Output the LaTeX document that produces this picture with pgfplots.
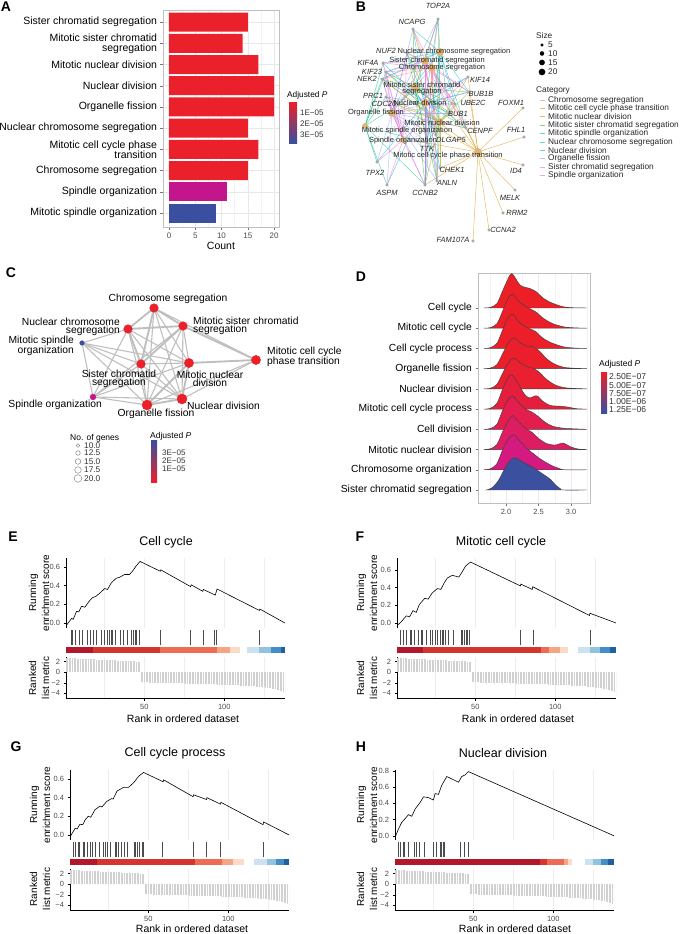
\documentclass[border=0pt]{standalone}
\usepackage{fontspec}
\setmainfont{Liberation Sans}
\usepackage{pgfplots}
\usepackage{pgfplotstable}
\pgfplotsset{compat=1.18}

\newcommand\fs[2]{\fontsize{#1}{#2}\selectfont}

%% colours
\definecolor{pred}{RGB}{234,32,42}
\definecolor{pmag}{RGB}{196,22,140}
\definecolor{pblue}{RGB}{58,79,160}
\definecolor{tanhub}{RGB}{226,180,110}
\definecolor{cCS}{HTML}{F8766D}
\definecolor{cMCCPT}{HTML}{D89000}
\definecolor{cMND}{HTML}{A3A500}
\definecolor{cMSCS}{HTML}{39B600}
\definecolor{cMSO}{HTML}{00BF7D}
\definecolor{cNCS}{HTML}{00BFC4}
\definecolor{cND}{HTML}{00B0F6}
\definecolor{cOF}{HTML}{9590FF}
\definecolor{cSCS}{HTML}{E76BF3}
\definecolor{cSO}{HTML}{FF62BC}
\definecolor{r10}{RGB}{236,30,38}
\definecolor{r9}{RGB}{236,30,40}
\definecolor{r8}{RGB}{236,30,41}
\definecolor{r7}{RGB}{235,31,43}
\definecolor{r6}{RGB}{234,31,47}
\definecolor{r5}{RGB}{230,30,62}
\definecolor{r4}{RGB}{227,29,78}
\definecolor{r3}{RGB}{222,28,98}
\definecolor{r2}{RGB}{212,26,128}
\definecolor{r1}{RGB}{60,80,160}
\definecolor{ddred}{RGB}{178,24,43}
\definecolor{dred}{RGB}{214,52,46}
\definecolor{mred}{RGB}{236,108,84}
\definecolor{salm}{RGB}{245,165,132}
\definecolor{peach}{RGB}{252,218,200}
\definecolor{lblue}{RGB}{205,226,240}
\definecolor{mblue}{RGB}{146,194,222}
\definecolor{bblue}{RGB}{67,142,196}
\definecolor{dblue}{RGB}{33,95,165}

%% ---- B: genes, position and category membership ----
\pgfplotstableread{
name x y CS MCCPT MND MSCS MSO NCS ND OF SCS SO
TOP2A 438 -19 1 0 1 1 0 1 1 1 1 0
NCAPG 413 -29 1 0 1 1 0 1 1 1 1 0
NUF2 407 -53 1 0 1 1 0 1 1 1 1 1
KIF4A 383 -63 1 0 0 0 1 1 1 1 1 1
KIF23 386 -72 1 0 1 1 1 1 1 1 1 1
NEK2 382 -79 1 1 1 1 1 1 1 1 1 1
PRC1 386 -97 0 0 1 0 1 0 1 1 0 1
CDC20 398 -105 1 1 1 1 1 1 1 1 1 1
KIF14 468 -77 0 1 1 0 0 0 1 1 0 1
BUB1B 469 -92 1 1 1 1 0 1 1 1 1 0
UBE2C 455 -104 1 1 1 1 0 1 1 1 1 0
BUB1 450 -113 1 1 1 1 0 1 1 1 1 0
CENPF 466 -128 1 1 1 1 0 1 1 1 1 0
DLGAP5 436 -135 1 0 1 1 0 1 1 1 1 0
TTK 427 -143 1 1 1 1 1 1 1 1 1 1
CHEK1 440 -168 0 1 1 0 0 0 1 1 0 0
TPX2 377 -162 0 0 0 0 1 0 1 1 0 1
ASPM 387 -185 0 0 0 0 1 0 1 1 0 1
CCNB2 425 -185 1 1 1 1 1 1 1 1 1 1
ANLN 437 -181 1 0 1 1 0 1 1 1 1 0
FOXM1 523 -108 0 1 0 0 0 0 0 0 0 0
FHL1 524 -137 0 1 0 0 0 0 0 0 0 0
ID4 523 -165 0 1 0 0 0 0 0 0 0 0
MELK 515 -190 0 1 0 0 0 0 0 0 0 0
RRM2 503 -213 0 1 0 0 0 0 0 0 0 0
CCNA2 489 -230 0 1 0 0 0 0 0 0 0 0
FAM107A 473 -241 0 1 0 0 0 0 0 0 0 0
}\genes

%% ---- C: edges of the enrichment map ----
\pgfplotstableread{
x y x2 y2
154 -308 128 -329
154 -308 183 -326
154 -308 141 -364
128 -329 183 -326
128 -329 141 -364
183 -326 141 -364
182 -399 147 -405
182 -399 189 -363
147 -405 189 -363
256 -360 189 -363
256 -360 183 -326
}\cthick
\pgfplotstableread{
x y x2 y2
154 -308 189 -363
154 -308 182 -399
154 -308 147 -405
154 -308 256 -360
128 -329 189 -363
128 -329 182 -399
128 -329 147 -405
128 -329 82 -343
183 -326 189 -363
183 -326 182 -399
183 -326 147 -405
141 -364 189 -363
141 -364 182 -399
141 -364 147 -405
256 -360 182 -399
256 -360 147 -405
82 -343 93 -397
82 -343 141 -364
82 -343 147 -405
82 -343 182 -399
82 -343 189 -363
93 -397 147 -405
93 -397 182 -399
93 -397 141 -364
93 -397 189 -363
93 -397 128 -329
93 -397 183 -326
}\cthin

%% ---- D: ridge densities (x, height in row units) ----
\pgfplotstableread[row sep=\\]{x h\\1.66 0\\1.76 0.03\\1.86 0.21\\1.93 0.71\\2.01 1.29\\2.09 1.70\\2.22 1.12\\2.37 0.96\\2.47 0.79\\2.55 0.54\\2.68 0.28\\2.88 0.06\\3.05 0.01\\3.24 0\\}\rCC
\pgfplotstableread[row sep=\\]{x h\\1.66 0\\1.76 0.03\\1.86 0.22\\1.94 0.78\\2.02 1.40\\2.10 1.68\\2.22 1.25\\2.35 1.00\\2.47 0.78\\2.56 0.52\\2.70 0.25\\2.88 0.07\\3.05 0.02\\3.24 0\\}\rMCC
\pgfplotstableread[row sep=\\]{x h\\1.66 0\\1.76 0.04\\1.86 0.25\\1.94 0.85\\2.02 1.45\\2.10 1.70\\2.20 1.30\\2.33 1.02\\2.45 0.85\\2.55 0.55\\2.68 0.30\\2.88 0.08\\3.05 0.02\\3.24 0\\}\rCCP
\pgfplotstableread[row sep=\\]{x h\\1.66 0\\1.76 0.03\\1.86 0.20\\1.95 0.75\\2.04 1.30\\2.12 1.52\\2.22 1.28\\2.32 1.12\\2.42 1.08\\2.52 0.85\\2.62 0.50\\2.75 0.22\\2.92 0.05\\3.24 0\\}\rOF
\pgfplotstableread[row sep=\\]{x h\\1.66 0\\1.76 0.03\\1.86 0.22\\1.95 0.78\\2.04 1.32\\2.12 1.52\\2.22 1.28\\2.32 1.10\\2.42 1.02\\2.52 0.80\\2.62 0.48\\2.75 0.20\\2.92 0.05\\3.24 0\\}\rND
\pgfplotstableread[row sep=\\]{x h\\1.66 0\\1.76 0.04\\1.86 0.28\\1.95 1.00\\2.03 1.55\\2.09 1.70\\2.18 1.30\\2.28 0.75\\2.36 0.55\\2.47 0.66\\2.56 0.40\\2.68 0.18\\2.85 0.14\\2.95 0.10\\3.08 0.02\\3.24 0\\}\rMCCP
\pgfplotstableread[row sep=\\]{x h\\1.66 0\\1.76 0.04\\1.86 0.25\\1.95 0.95\\2.04 1.50\\2.10 1.65\\2.20 1.30\\2.30 1.00\\2.40 0.85\\2.50 0.62\\2.60 0.35\\2.72 0.15\\2.90 0.05\\3.24 0\\}\rCD
\pgfplotstableread[row sep=\\]{x h\\1.66 0\\1.76 0.04\\1.86 0.25\\1.95 0.90\\2.04 1.45\\2.10 1.68\\2.20 1.35\\2.30 1.05\\2.40 0.85\\2.50 0.55\\2.62 0.30\\2.75 0.22\\2.88 0.32\\2.98 0.15\\3.10 0.03\\3.24 0\\}\rMND
\pgfplotstableread[row sep=\\]{x h\\1.66 0\\1.76 0.05\\1.86 0.30\\1.95 1.00\\2.04 1.55\\2.12 1.73\\2.22 1.40\\2.32 1.05\\2.42 0.80\\2.52 0.55\\2.62 0.35\\2.72 0.18\\2.82 0.06\\2.90 0\\3.24 0\\}\rCO
\pgfplotstableread[row sep=\\]{x h\\1.70 0\\1.78 0.10\\1.88 0.45\\1.98 1.05\\2.06 1.45\\2.13 1.60\\2.25 1.40\\2.37 1.19\\2.47 1.00\\2.57 0.78\\2.68 0.53\\2.76 0.25\\2.84 0.05\\2.88 0\\3.24 0\\}\rSCS

%% ---- E-H: running enrichment scores ----
\pgfplotstableread[row sep=\\]{x y\\1 -0.03\\4.5 0.05\\5.5 0.04\\7.6 0.125\\9 0.12\\10.7 0.18\\12.8 0.17\\15.3 0.23\\17.4 0.27\\20 0.29\\22.1 0.32\\25.2 0.37\\27 0.36\\29.3 0.43\\32.4 0.48\\34.5 0.49\\37.6 0.52\\40.7 0.52\\42.8 0.56\\44.8 0.61\\47.3 0.66\\60 0.555\\60.3 0.57\\79 0.39\\79.3 0.41\\86.6 0.34\\86.9 0.36\\94.4 0.30\\95.5 0.365\\122 0.135\\122.3 0.15\\138 0\\}\esE
\pgfplotstableread[row sep=\\]{x y\\1 -0.03\\3.5 0.01\\6.8 0.08\\8.9 0.07\\11 0.14\\13 0.12\\15 0.21\\18.4 0.28\\20.5 0.27\\23 0.34\\26.3 0.39\\28.4 0.38\\30.4 0.45\\32.5 0.51\\35.6 0.54\\39.7 0.52\\41.8 0.58\\43.9 0.645\\47 0.69\\78.2 0.42\\78.5 0.44\\85.6 0.38\\85.9 0.41\\121.4 0.085\\121.7 0.11\\138 0\\}\esF
\pgfplotstableread[row sep=\\]{x y\\1 -0.02\\4.2 0.07\\5.5 0.065\\7.2 0.115\\9 0.11\\10.4 0.16\\12.4 0.2\\14 0.19\\16.6 0.27\\19.8 0.31\\21 0.30\\24 0.36\\27.1 0.39\\28 0.385\\30.4 0.47\\34.5 0.51\\37.6 0.51\\40.8 0.56\\44 0.63\\47 0.67\\59.3 0.57\\59.6 0.59\\78 0.41\\78.3 0.43\\86.4 0.38\\86.7 0.40\\95.1 0.33\\95.4 0.35\\121.8 0.11\\122.1 0.14\\138 0\\}\esG
\pgfplotstableread[row sep=\\]{x y\\1 -0.02\\3.1 0.08\\5.2 0.165\\7.3 0.21\\9.4 0.26\\11.5 0.24\\13.6 0.33\\16.7 0.41\\18.8 0.48\\21.9 0.47\\25 0.44\\26.1 0.52\\28.2 0.51\\30.2 0.62\\33.4 0.73\\40.7 0.66\\42.8 0.73\\44.9 0.75\\46.9 0.79\\138 0\\}\esH

%% hits (ranks of the gene-set members, h = 1)
\pgfplotstableread[row sep=\\]{r h\\4 1\\5 1\\7 1\\9 1\\11 1\\14 1\\16 1\\18 1\\20 1\\23 1\\25 1\\27 1\\28 1\\29 1\\30 1\\32 1\\35 1\\37 1\\39 1\\42 1\\43 1\\44 1\\45 1\\47 1\\60 1\\79 1\\87 1\\94 1\\95 1\\122 1\\}\hitsE
\pgfplotstableread[row sep=\\]{r h\\3 1\\5 1\\7 1\\9 1\\10 1\\12 1\\14 1\\16 1\\17 1\\19 1\\22 1\\23 1\\25 1\\26 1\\28 1\\29 1\\30 1\\31 1\\33 1\\36 1\\41 1\\42 1\\43 1\\44 1\\45 1\\46 1\\78 1\\86 1\\122 1\\}\hitsF
\pgfplotstableread[row sep=\\]{r h\\3 1\\4 1\\6 1\\7 1\\9 1\\10 1\\12 1\\13.5 1\\15 1\\17 1\\19 1\\22 1\\23 1\\24.5 1\\26 1\\29 1\\30 1\\31 1\\33 1\\35 1\\37 1\\41 1\\42 1\\43 1\\44 1\\46 1\\47 1\\59 1\\78 1\\86 1\\95 1\\122 1\\}\hitsG
\pgfplotstableread[row sep=\\]{r h\\3 1\\4 1\\6 1\\7 1\\9 1\\13 1\\14 1\\16 1\\19 1\\25 1\\27 1\\29 1\\30 1\\31 1\\32 1\\42 1\\44 1\\47 1\\}\hitsH

%% ranked list metric (same ranked list for E-H)
\pgfplotstableread[row sep=\\]{r m\\1 2.78\\2 2.72\\3 2.70\\4 2.68\\5 2.66\\6 2.64\\7 2.62\\8 2.60\\9 2.58\\10 2.57\\11 2.55\\12 2.54\\13 2.52\\14 2.51\\15 2.49\\16 2.48\\17 2.46\\18 2.45\\19 2.43\\20 2.42\\21 2.40\\22 2.39\\23 2.37\\24 2.36\\25 2.34\\26 2.33\\27 2.31\\28 2.30\\29 2.28\\30 2.27\\31 2.25\\32 2.24\\33 2.22\\34 2.21\\35 2.19\\36 2.18\\37 2.16\\38 2.15\\39 2.13\\40 2.12\\41 2.10\\42 2.09\\43 2.07\\44 2.06\\45 2.04\\46 2.03\\47 2.01\\48 -1.90\\49 -1.91\\50 -1.92\\51 -1.93\\52 -1.94\\53 -1.95\\54 -1.95\\55 -1.96\\56 -1.97\\57 -1.98\\58 -1.99\\59 -2.00\\60 -2.00\\61 -2.01\\62 -2.02\\63 -2.03\\64 -2.04\\65 -2.05\\66 -2.05\\67 -2.06\\68 -2.07\\69 -2.08\\70 -2.09\\71 -2.10\\72 -2.10\\73 -2.11\\74 -2.12\\75 -2.13\\76 -2.14\\77 -2.15\\78 -2.15\\79 -2.16\\80 -2.17\\81 -2.18\\82 -2.19\\83 -2.20\\84 -2.21\\85 -2.22\\86 -2.23\\87 -2.24\\88 -2.25\\89 -2.26\\90 -2.27\\91 -2.28\\92 -2.29\\93 -2.30\\94 -2.31\\95 -2.32\\96 -2.33\\97 -2.34\\98 -2.35\\99 -2.36\\100 -2.37\\101 -2.39\\102 -2.40\\103 -2.42\\104 -2.43\\105 -2.45\\106 -2.46\\107 -2.48\\108 -2.50\\109 -2.51\\110 -2.53\\111 -2.55\\112 -2.57\\113 -2.59\\114 -2.61\\115 -2.63\\116 -2.65\\117 -2.67\\118 -2.69\\119 -2.71\\120 -2.73\\121 -2.76\\122 -2.78\\123 -2.81\\124 -2.84\\125 -2.87\\126 -2.91\\127 -2.95\\128 -3.00\\129 -3.05\\130 -3.10\\131 -3.16\\132 -3.22\\133 -3.30\\134 -3.38\\135 -3.48\\136 -3.60\\137 -3.78\\138 -4.05\\}\metric

%% styles
\pgfplotsset{
  gbase/.style={scale only axis, anchor=north west, width=219pt, xmin=1, xmax=138,
    /pgf/number format/assume math mode=true,
    ticklabel style={font=\fs{7.5}{8}, text=black!70},
    tick align=outside, tick pos=left, major tick length=2.5pt, minor tick length=0pt,
    tick style={black, line width=0.5pt},
    grid style={black!7, line width=0.5pt}, minor grid style={black!7, line width=0.5pt}},
  ges/.style={gbase, height=70pt, axis lines*=left, axis line style={-, black, line width=0.5pt},
    x axis line style={draw=none},
    xtick={50,100}, minor xtick={25,75,125}, xticklabels={}, xmajorgrids, xminorgrids,
    xtick style={draw=none},
    yticklabel style={/pgf/number format/fixed, /pgf/number format/fixed zerofill, /pgf/number format/precision=1}},
  ghit/.style={gbase, height=15pt, ymin=0, ymax=1, hide axis},
  gband/.style={gbase, height=6pt, ymin=0, ymax=1, hide axis},
  gmet/.style={gbase, height=41pt, ymin=-4.9, ymax=2.9, axis lines*=left,
    axis line style={-, black, line width=0.5pt},
    xtick={50,100}, minor xtick={25,75,125}, xmajorgrids, xminorgrids,
    ytick={-4,-2,0,2}, yticklabels={−4,−2,0,2}},
  ridge/.style={draw=black!75, line width=0.45pt, smooth},
}

\newcommand\bseg[3]{\addplot[fill=#1, draw=none] coordinates {(#2,0) (#3,0) (#3,1) (#2,1)} -- cycle;}
\newcommand\catedges[4]{\addplot[#2, line width=0.5pt, opacity=0.6, no markers,
   restrict expr to domain={\thisrow{#1}}{0.5:1.5},
   quiver={u={#3-(\thisrow{x})}, v={#4-(\thisrow{y})}}] table[x=x,y=y] {\genes};}

% #1 left, #2 top of ES panel, #3 ymin, #4 ymax, #5 yticks, #6 ES, #7 hits, #8 band
\newcommand\gsea[8]{%
  \begin{axis}[ges, at={(#1pt,-#2pt)}, ymin=#3, ymax=#4, ytick={#5}]
    \addplot[black, line width=0.6pt, mark=none] table[x=x,y=y] {#6};
  \end{axis}
  \begin{axis}[ghit, at={(#1pt,{-(#2+72)*1pt})}]
    \addplot[ycomb, black!70, line width=0.45pt, mark=none] table[x=r, y=h] {#7};
  \end{axis}
  \begin{axis}[gband, at={(#1pt,{-(#2+89)*1pt})}]
    #8
  \end{axis}
  \begin{axis}[gmet, at={(#1pt,{-(#2+99)*1pt})}]
    \addplot[ycomb, black!18, line width=0.8pt, mark=none] table[x=r,y=m] {\metric};
  \end{axis}}

\begin{document}
\begin{tikzpicture}
\useasboundingbox (0pt,0pt) rectangle (680pt,-934pt);

%% ===== canvas for the two networks (B and C), pixel coordinates =====
\begin{axis}[at={(0pt,0pt)}, anchor=north west, scale only axis, width=680pt, height=934pt,
  xmin=0, xmax=680, ymin=-934, ymax=0, hide axis, clip=false]
  % C edges
  \addplot[black!25, line width=1.9pt, no markers,
    quiver={u=\thisrow{x2}-\thisrow{x}, v=\thisrow{y2}-\thisrow{y}}] table[x=x,y=y] {\cthick};
  \addplot[black!25, line width=1.1pt, no markers,
    quiver={u=\thisrow{x2}-\thisrow{x}, v=\thisrow{y2}-\thisrow{y}}] table[x=x,y=y] {\cthin};
  % C nodes
  \addplot[only marks, mark=*, mark size=5pt, pred, mark options={draw=none}] coordinates {(182,-399) (147,-405)};
  \addplot[only marks, mark=*, mark size=4.6pt, pred, mark options={draw=none}] coordinates {(189,-363) (256,-360)};
  \addplot[only marks, mark=*, mark size=4.3pt, pred, mark options={draw=none}] coordinates {(154,-308) (128,-329) (141,-364) (183,-326)};
  \addplot[only marks, mark=*, mark size=2.9pt, pmag, mark options={draw=none}] coordinates {(93,-397)};
  \addplot[only marks, mark=*, mark size=2.3pt, pblue, mark options={draw=none}] coordinates {(82,-343)};
  % C legend circles
  \addplot[only marks, mark=o, black!55, mark size=1.8pt, mark options={line width=0.4pt}] coordinates {(78,-445.5)};
  \addplot[only marks, mark=o, black!55, mark size=2.3pt, mark options={line width=0.4pt}] coordinates {(78,-453)};
  \addplot[only marks, mark=o, black!55, mark size=2.8pt, mark options={line width=0.4pt}] coordinates {(78,-461.5)};
  \addplot[only marks, mark=o, black!55, mark size=3.3pt, mark options={line width=0.4pt}] coordinates {(78,-470)};
  \addplot[only marks, mark=o, black!55, mark size=3.8pt, mark options={line width=0.4pt}] coordinates {(78,-478.5)};
  % B edges, one star per category
  \catedges{MCCPT}{cMCCPT}{478}{-152}
  \catedges{CS}{cCS}{432}{-68}
  \catedges{MND}{cMND}{440}{-122}
  \catedges{MSCS}{cMSCS}{415}{-88}
  \catedges{MSO}{cMSO}{365}{-126}
  \catedges{NCS}{cNCS}{440}{-52}
  \catedges{ND}{cND}{425}{-103}
  \catedges{OF}{cOF}{392}{-113}
  \catedges{SCS}{cSCS}{425}{-61}
  \catedges{SO}{cSO}{403}{-140}
  % B gene and category nodes
  \addplot[only marks, mark=*, mark size=1.3pt, black!35, mark options={draw=none}] table[x=x,y=y] {\genes};
  \addplot[only marks, mark=*, mark size=3.6pt, tanhub, mark options={draw=none}]
    coordinates {(432,-68) (440,-122) (415,-88) (440,-52) (425,-103) (392,-113) (425,-61) (478,-152)};
  \addplot[only marks, mark=*, mark size=2.6pt, tanhub, mark options={draw=none}]
    coordinates {(365,-126) (403,-140)};
  % B size legend
  \addplot[only marks, mark=*, black, mark size=1.4pt] coordinates {(542,-45)};
  \addplot[only marks, mark=*, black, mark size=2.0pt] coordinates {(542,-53.5)};
  \addplot[only marks, mark=*, black, mark size=2.6pt] coordinates {(542,-62.5)};
  \addplot[only marks, mark=*, black, mark size=3.1pt] coordinates {(542,-72)};
  % B category legend keys
  \addplot[cCS, opacity=0.6, line width=0.6pt] coordinates {(540,-100) (545,-100)};
  \addplot[cMCCPT, opacity=0.6, line width=0.6pt] coordinates {(540,-108.4) (545,-108.4)};
  \addplot[cMND, opacity=0.6, line width=0.6pt] coordinates {(540,-116.8) (545,-116.8)};
  \addplot[cMSCS, opacity=0.6, line width=0.6pt] coordinates {(540,-125.2) (545,-125.2)};
  \addplot[cMSO, opacity=0.6, line width=0.6pt] coordinates {(540,-133.6) (545,-133.6)};
  \addplot[cNCS, opacity=0.6, line width=0.6pt] coordinates {(540,-142) (545,-142)};
  \addplot[cND, opacity=0.6, line width=0.6pt] coordinates {(540,-150.4) (545,-150.4)};
  \addplot[cOF, opacity=0.6, line width=0.6pt] coordinates {(540,-158.8) (545,-158.8)};
  \addplot[cSCS, opacity=0.6, line width=0.6pt] coordinates {(540,-167.2) (545,-167.2)};
  \addplot[cSO, opacity=0.6, line width=0.6pt] coordinates {(540,-175.6) (545,-175.6)};
\end{axis}

%% ===== A: bar chart =====
\begin{axis}[at={(163pt,-10pt)}, anchor=north west, scale only axis, width=116pt, height=217pt,
  xbar, bar width=19pt, bar shift=0pt,
  xmin=-1.14, xmax=20.95, ymin=0.34, ymax=10.57,
  xtick={0,5,10,15,20}, minor xtick={2.5,7.5,12.5,17.5}, ytick={1,...,10},
  yticklabels={Mitotic spindle organization, Spindle organization, Chromosome segregation,
    {Mitotic cell cycle phase\\transition}, Nuclear chromosome segregation, Organelle fission,
    Nuclear division, Mitotic nuclear division, {Mitotic sister chromatid\\segregation},
    Sister chromatid segregation},
  xmajorgrids, xminorgrids, ymajorgrids,
  grid style={black!9, line width=0.5pt}, minor grid style={black!5, line width=0.4pt},
  axis line style={black!25},
  tick align=outside, tick pos=left, major tick length=2.5pt, minor tick length=0pt,
  tick style={black!55, line width=0.4pt},
  /pgf/number format/assume math mode=true,
  xticklabel style={font=\fs{8}{9}, text=black!70},
  yticklabel style={font=\fs{10.5}{10}, align=right, text=black},
  xlabel={Count}, xlabel style={font=\fs{10.5}{12}, yshift=3pt}]
  \addplot[fill=pred, draw=none] coordinates {(15,10) (14,9) (17,8) (20,7) (20,6) (15,5) (17,4) (15,3)};
  \addplot[fill=pmag, draw=none] coordinates {(11,2)};
  \addplot[fill=pblue, draw=none] coordinates {(9,1)};
\end{axis}

%% ===== D: ridgeline plot =====
\begin{axis}[at={(478pt,-273pt)}, anchor=north west, scale only axis, width=112pt, height=230pt,
  xmin=1.57, xmax=3.29, ymin=0.356, ymax=11.73,
  xtick={2,2.5,3}, minor xtick={1.75,2.25,2.75,3.25}, xmajorgrids, xminorgrids,
  grid style={black!8, line width=0.5pt}, minor grid style={black!5, line width=0.4pt},
  ytick={1,...,10},
  yticklabels={Sister chromatid segregation, Chromosome organization, Mitotic nuclear division,
    Cell division, Mitotic cell cycle process, Nuclear division, Organelle fission,
    Cell cycle process, Mitotic cell cycle, Cell cycle},
  tick align=outside, tick pos=left, major tick length=2.5pt, minor tick length=0pt,
  tick style={black!55, line width=0.4pt},
  axis line style={black!25},
  /pgf/number format/assume math mode=true,
  xticklabel style={font=\fs{7.5}{8}, text=black!70, /pgf/number format/fixed, /pgf/number format/fixed zerofill, /pgf/number format/precision=1},
  yticklabel style={font=\fs{10.3}{11}, text=black}]
  \addplot[ridge, fill=r10] table[x=x, y expr=\thisrow{h}+10] {\rCC} -- cycle;
  \addplot[ridge, fill=r9] table[x=x, y expr=\thisrow{h}+9] {\rMCC} -- cycle;
  \addplot[ridge, fill=r8] table[x=x, y expr=\thisrow{h}+8] {\rCCP} -- cycle;
  \addplot[ridge, fill=r7] table[x=x, y expr=\thisrow{h}+7] {\rOF} -- cycle;
  \addplot[ridge, fill=r6] table[x=x, y expr=\thisrow{h}+6] {\rND} -- cycle;
  \addplot[ridge, fill=r5] table[x=x, y expr=\thisrow{h}+5] {\rMCCP} -- cycle;
  \addplot[ridge, fill=r4] table[x=x, y expr=\thisrow{h}+4] {\rCD} -- cycle;
  \addplot[ridge, fill=r3] table[x=x, y expr=\thisrow{h}+3] {\rMND} -- cycle;
  \addplot[ridge, fill=r2] table[x=x, y expr=\thisrow{h}+2] {\rCO} -- cycle;
  \addplot[ridge, fill=r1] table[x=x, y expr=\thisrow{h}+1] {\rSCS} -- cycle;
\end{axis}

%% ===== E-H: GSEA plots =====
\gsea{66}{558}{-0.053}{0.697}{0,0.2,0.4,0.6}{\esE}{\hitsE}{%
  \bseg{ddred}{1}{18}\bseg{dred}{18}{60}\bseg{mred}{60}{95.5}\bseg{salm}{95.5}{103.5}%
  \bseg{peach}{103.5}{110}\bseg{lblue}{114}{122}\bseg{mblue}{122}{129.5}%
  \bseg{bblue}{129.5}{135.5}\bseg{dblue}{135.5}{138}}
\gsea{397}{558}{-0.057}{0.736}{0,0.2,0.4,0.6}{\esF}{\hitsF}{%
  \bseg{ddred}{1}{17}\bseg{dred}{17}{91}\bseg{mred}{91}{96}\bseg{salm}{96}{103}%
  \bseg{peach}{103}{108}\bseg{lblue}{114}{122}\bseg{mblue}{122}{128}%
  \bseg{bblue}{128}{134}\bseg{dblue}{134}{138}}
\gsea{70}{770}{-0.054}{0.696}{0,0.2,0.4,0.6}{\esG}{\hitsG}{%
  \bseg{ddred}{1}{17.7}\bseg{dred}{17.7}{79}\bseg{mred}{79}{96}\bseg{salm}{96}{103}%
  \bseg{peach}{103}{110}\bseg{lblue}{116}{124}\bseg{mblue}{124}{130}%
  \bseg{bblue}{130}{135}\bseg{dblue}{135}{138}}
\gsea{395}{770}{-0.052}{0.81}{0,0.2,0.4,0.6,0.8}{\esH}{\hitsH}{%
  \bseg{ddred}{1}{92}\bseg{dred}{92}{96}\bseg{mred}{96}{107}\bseg{salm}{107}{109.5}%
  \bseg{peach}{109.5}{112}\bseg{lblue}{120}{125}\bseg{mblue}{125}{130}%
  \bseg{bblue}{130}{134}\bseg{dblue}{134}{138}}

%% ===== text =====
\tikzset{t/.style={inner sep=0pt}}
% panel letters
\foreach \l/\x/\y in {A/6/7, B/361/7, C/11/273, D/361/277, E/13/537, F/360/537, G/16/747, H/361/747}
  \node[t, font=\fs{14}{16}\bfseries] at (\x pt,-\y pt) {\l};

% A legend
\node[t, anchor=west, font=\fs{8.3}{9}] at (287pt,-95pt) {Adjusted \textit{P}};
\shade[top color=pred, middle color=pmag, bottom color=pblue] (289pt,-102pt) rectangle (297pt,-143pt);
\node[t, anchor=west, font=\fs{8}{9}, text=black!80] at (300pt,-113pt) {1E−05};
\node[t, anchor=west, font=\fs{8}{9}, text=black!80] at (300pt,-124pt) {2E−05};
\node[t, anchor=west, font=\fs{8}{9}, text=black!80] at (300pt,-135pt) {3E−05};

% B category labels
\begin{scope}[every node/.style={t, font=\fs{7.5}{6.7}, text=black!85}]
\node at (454pt,-52pt) {Nuclear chromosome segregation};
\node at (437pt,-61pt) {Sister chromatid segregation};
\node at (442pt,-68pt) {Chromosome segregation};
\node[align=center] at (422pt,-88.5pt) {Mitotic sister chromatid\\segregation};
\node at (420pt,-103pt) {Nuclear division};
\node at (376pt,-113pt) {Organelle fission};
\node at (442pt,-123pt) {Mitotic nuclear division};
\node at (407pt,-131pt) {Mitotic spindle organization};
\node at (403pt,-141pt) {Spindle organization};
\node at (448pt,-156pt) {Mitotic cell cycle phase transition};
\end{scope}
% B gene labels
\begin{scope}[every node/.style={t, font=\fs{7.5}{8}\itshape, text=black!85}]
\foreach \g/\x/\y in {TOP2A/438/6, NCAPG/412/22, NUF2/386/51, KIF4A/368/63, KIF23/372/72, NEK2/367/79,
  PRC1/373/96, CDC20/384/104, KIF14/480/80, BUB1B/481/94, UBE2C/473/103, BUB1/458/114,
  FOXM1/511/103, CENPF/480/131, FHL1/516/130, DLGAP5/451/140, TTK/427/149, CHEK1/452/170,
  ID4/516/171, TPX2/375/173, ASPM/387/193, CCNB2/425/193, ANLN/447/183, MELK/510/198,
  RRM2/517/213, CCNA2/503/230, FAM107A/453/240}
  \node at (\x pt,-\y pt) {\g};
\end{scope}
% B legend
\begin{scope}[every node/.style={t, anchor=west, font=\fs{8.3}{9}, text=black!85}]
\node at (536pt,-36pt) {Size};
\node at (548pt,-45pt) {5};
\node at (548pt,-53.5pt) {10};
\node at (548pt,-62.5pt) {15};
\node at (548pt,-72pt) {20};
\node at (536pt,-90pt) {Category};
\foreach \c [count=\i from 0] in {Chromosome segregation, Mitotic cell cycle phase transition,
  Mitotic nuclear division, Mitotic sister chromatid segregation, Mitotic spindle organization,
  Nuclear chromosome segregation, Nuclear division, Organelle fission,
  Sister chromatid segregation, Spindle organization}
  \node at (548pt,{-(100+8.4*\i)*1pt}) {\c};
\end{scope}

% C labels
\begin{scope}[every node/.style={t, font=\fs{10.3}{8.6}, text=black}]
\node at (168pt,-299pt) {Chromosome segregation};
\node[anchor=east, align=right] at (120pt,-327pt) {Nuclear chromosome\\segregation};
\node[anchor=west, align=left] at (193pt,-326pt) {Mitotic sister chromatid\\segregation};
\node[anchor=east, align=right] at (74pt,-346pt) {Mitotic spindle\\organization};
\node[align=center] at (119pt,-379pt) {Sister chromatid\\segregation};
\node[align=center] at (210pt,-379pt) {Mitotic nuclear\\division};
\node[anchor=east] at (102pt,-405pt) {Spindle organization};
\node at (156pt,-414pt) {Organelle fission};
\node[anchor=west] at (187pt,-406pt) {Nuclear division};
\begin{scope}
\clip (0pt,-330pt) rectangle (343pt,-380pt);
\node[anchor=west, align=left] at (267pt,-357pt) {Mitotic cell cycle\\phase transition};
\end{scope}
\end{scope}
% C legend
\node[t, anchor=west, font=\fs{8.5}{9}] at (70pt,-438pt) {No. of genes};
\foreach \v/\y in {10.0/445.5, 12.5/453, 15.0/461.5, 17.5/470, 20.0/478.5}
  \node[t, anchor=west, font=\fs{8.3}{9}, text=black!80] at (84pt,-\y pt) {\v};
\node[t, anchor=west, font=\fs{8.5}{9}] at (150pt,-436pt) {Adjusted \textit{P}};
\shade[top color=pblue, middle color=pmag, bottom color=pred] (151pt,-440pt) rectangle (157pt,-482pt);
\node[t, anchor=west, font=\fs{8}{9}, text=black!80] at (162pt,-453pt) {3E−05};
\node[t, anchor=west, font=\fs{8}{9}, text=black!80] at (162pt,-461pt) {2E−05};
\node[t, anchor=west, font=\fs{8}{9}, text=black!80] at (162pt,-469pt) {1E−05};

% D legend
\node[t, anchor=west, font=\fs{8.5}{9}] at (599pt,-364pt) {Adjusted \textit{P}};
\shade[top color=pred, middle color=pmag, bottom color=pblue] (601pt,-372pt) rectangle (607pt,-413pt);
\foreach \v/\y in {2.50E−07/377, 5.00E−07/385.5, 7.50E−07/394, 1.00E−06/402, 1.25E−06/410}
  \node[t, anchor=west, font=\fs{8.6}{9}, text=black!80] at (609pt,-\y pt) {\v};

% E-H titles and labels
\begin{scope}[every node/.style={t}]
\foreach \ti/\x/\y in {Cell cycle/166/542, Mitotic cell cycle/501/542, Cell cycle process/175/753, Nuclear division/503/753}
  \node[font=\fs{12.5}{14}] at (\x pt,-\y pt) {\ti};
\foreach \x/\y in {39/593, 367/593, 40/805, 367/805}
  \node[rotate=90, align=center, font=\fs{10}{13}] at (\x pt,-\y pt) {Running\\enrichment score};
\foreach \x/\y in {39/678, 367/678, 40/889, 367/889}
  \node[rotate=90, align=center, font=\fs{10}{13}] at (\x pt,-\y pt) {Ranked\\list metric};
\foreach \x/\y in {183/719, 518/719, 192/928.5, 515/928.5}
  \node[font=\fs{10.5}{12}] at (\x pt,-\y pt) {Rank in ordered dataset};
\end{scope}

\end{tikzpicture}
\end{document}
